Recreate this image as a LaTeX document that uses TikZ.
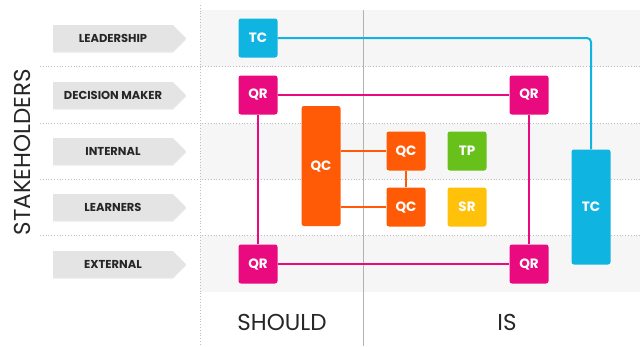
\documentclass[tikz,border=0pt]{standalone}
\usepackage{fontspec}
\setmainfont{Poppins}
\usetikzlibrary{shapes.symbols,shadows}
\definecolor{tcblue}{HTML}{10B4E0}
\definecolor{qrpink}{HTML}{EA0A80}
\definecolor{qcorange}{HTML}{FF5A05}
\definecolor{tpgreen}{HTML}{68C11A}
\definecolor{sryellow}{HTML}{FFC10A}
\definecolor{bandgrey}{HTML}{F6F6F6}
\definecolor{taggrey}{HTML}{E4E4E4}
\tikzset{
  box/.style={rounded corners=2.5pt,minimum width=39pt,minimum height=39pt,
    inner sep=0pt,text=white,font=\fontsize{13.5}{13.5}\selectfont\bfseries},
  tag/.style={signal,signal to=east,fill=taggrey,minimum width=133pt,
    minimum height=26pt,inner sep=0pt,text=black!85,
    font=\fontsize{11.5}{11.5}\selectfont\bfseries,
    drop shadow={shadow xshift=0pt,shadow yshift=-1.5pt,fill=black!18}},
  link/.style={line width=2pt},
  axis/.style={font=\fontsize{23}{23}\selectfont,text=black!85}
}

\begin{document}
\begin{tikzpicture}[x=1pt,y=-1pt]
  \useasboundingbox (0,0) rectangle (640,346);
  % row bands and grid
  \foreach \by in {10,123,235}
    \fill[bandgrey] (200,\by) rectangle (640,\by+57);
  \foreach \gy in {66,123,179,235}
    \draw[black!25,dotted,line width=0.8pt] (40,\gy) -- (640,\gy);
  \draw[black!25,dotted,line width=0.8pt] (200,5) -- (200,346);
  \draw[black!30,line width=1pt] (363,10) -- (363,346);

  % stakeholder tags
  \foreach \ty/\tname/\ttext in {
    38/lead/LEADERSHIP,
    95/dec/DECISION MAKER,
    151/int/INTERNAL,
    207/learn/LEARNERS,
    264/ext/EXTERNAL}
  {
    \node[tag] (\tname) at (113,\ty) {\ttext};
  }
  \node[axis,rotate=90] (stake) at (22,152) {STAKEHOLDERS};
  \node[axis] (should) at (282,322) {SHOULD};
  \node[axis] (is) at (507,322) {IS};

  % boxes
  \node[box,fill=tcblue] (tcA) at (258,38) {TC};
  \node[box,fill=qrpink] (qrA) at (258,95) {QR};
  \node[box,fill=qrpink] (qrB) at (529,95) {QR};
  \node[box,fill=qrpink] (qrC) at (258,264) {QR};
  \node[box,fill=qrpink] (qrD) at (529,264) {QR};
  \node[box,fill=qcorange,minimum height=120pt] (qcA) at (321,166) {QC};
  \node[box,fill=qcorange] (qcB) at (406,151) {QC};
  \node[box,fill=qcorange] (qcC) at (406,207) {QC};
  \node[box,fill=tpgreen] (tp) at (467,151) {TP};
  \node[box,fill=sryellow] (sr) at (467,207) {SR};
  \node[box,fill=tcblue,minimum height=115pt] (tcB) at (591,207) {TC};

  % links
  \draw[link,tcblue,rounded corners=4pt] (tcA.east) -| (tcB.north);
  \draw[link,qrpink] (qrA.east) -- (qrB.west);
  \draw[link,qrpink] (qrC.east) -- (qrD.west);
  \draw[link,qrpink] (qrA.south) -- (qrC.north);
  \draw[link,qrpink] (qrB.south) -- (qrD.north);
  \draw[link,qcorange] (qcA.east |- qcB.west) -- (qcB.west);
  \draw[link,qcorange] (qcA.east |- qcC.west) -- (qcC.west);
  \draw[link,qcorange] (qcB.south) -- (qcC.north);
\end{tikzpicture}
\end{document}
